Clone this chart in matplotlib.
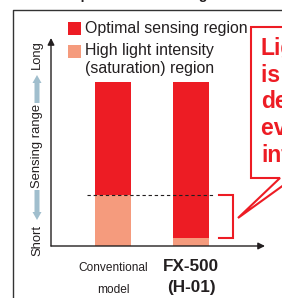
import numpy as np
import matplotlib.pyplot as plt
from matplotlib import font_manager
from matplotlib.patches import Rectangle, FancyArrow
from matplotlib.transforms import blended_transform_factory
plt.rcParams['font.family'] = 'Liberation Sans'

# data ---
categories = [['Conventional', 'model'], ['FX-500', '(H-01)']]
saturation = [31, 5]      # high light intensity (saturation) region
optimal = [69, 95]        # optimal sensing region
legend_labels = [['Optimal sensing region'], ['High light intensity', '(saturation) region']]
callout_lines = ['Light', 'is stably', 'detected', 'even at high', 'intensity']
side_labels = ['Long', 'Sensing range', 'Short']
title = 'Comparison of sensing'
#---

red = '#ED1C24'
salmon = '#F59B7D'
blue = '#A0BECD'
ink = '#231F20'
names = {f.name for f in font_manager.fontManager.ttflist}
narrow = 'Liberation Sans Narrow' if 'Liberation Sans Narrow' in names else 'Liberation Sans'
tick_size = 9.5 if narrow == 'Liberation Sans Narrow' else 8.6

W, H = 282, 298
fig = plt.figure(figsize=(W/100, H/100), dpi=100)

# background layer in pixel units (frame, labels, callout)
bg = fig.add_axes([0, 0, 1, 1])
bg.set_xlim(0, W)
bg.set_ylim(H, 0)
bg.axis('off')

bg.plot([13, 13, W+5], [H+5, 10, 10], color='#333333', lw=1, clip_on=False)
bg.text(49, -1, title, fontsize=10.3, fontweight='bold', color=ink, va='baseline', clip_on=False)

# legend
for i, (c, lab) in enumerate(zip([red, salmon], legend_labels)):
    top = [22, 45][i]
    bg.add_patch(Rectangle((68, top), 13, 13, color=c, lw=0))
    for j, line in enumerate(lab):
        bg.text(85, [33, 55][i] + 18*j, line, fontsize=11.4, color=ink, va='baseline')

# sensing range arrows / labels
bg.text(37, 55, side_labels[0], rotation=90, fontsize=9.4, color=ink, ha='center', va='center')
bg.text(37, 146, side_labels[1], rotation=90, fontsize=9.4, color=ink, ha='center', va='center')
bg.text(37, 240, side_labels[2], rotation=90, fontsize=9.4, color=ink, ha='center', va='center')
bg.add_patch(FancyArrow(37, 103, 0, -28, width=5, head_width=9, head_length=8,
                        length_includes_head=True, color=blue, lw=0))
bg.add_patch(FancyArrow(37, 190, 0, 30, width=5, head_width=9, head_length=8,
                        length_includes_head=True, color=blue, lw=0))

# callout
bg.plot([W+8, 251, 251, 280, 238, W+8], [27, 27, 178, 178, 218, 180.5],
        color=red, lw=1.5, solid_joinstyle='miter', clip_on=False)
for k, line in enumerate(callout_lines):
    bg.text(261, 55 + 26.7*k, line, fontsize=16.5, fontweight='bold', color=red, va='baseline')

# chart ---
ax = fig.add_axes([51/W, (H-246)/H, (265-51)/W, (246-38)/H])
ax.patch.set_alpha(0)
x = np.arange(len(categories))
ax.bar(x, saturation, 0.46, color=salmon, lw=0)
ax.bar(x, optimal, 0.46, bottom=saturation, color=red, lw=0)
ax.set_xlim(-0.795, 1.949)
ax.set_ylim(0, 126.8)
for s in ax.spines.values():
    s.set_visible(False)
ax.set_xticks([])
ax.set_yticks([])
ax.annotate('', xy=(1, 0), xytext=(0, 0), xycoords='axes fraction',
            arrowprops=dict(arrowstyle='-|>', color=ink, lw=1, shrinkA=0, shrinkB=0, mutation_scale=10))
ax.annotate('', xy=(0, 1), xytext=(0, 0), xycoords='axes fraction',
            arrowprops=dict(arrowstyle='-|>', color=ink, lw=1, shrinkA=0, shrinkB=0, mutation_scale=10))

ax.hlines(saturation[0], -0.333, 1.28, colors=ink, linestyles=(0, (3, 2.5)), lw=0.8)
ax.plot([1.36, 1.54, 1.54, 1.36], [saturation[0], saturation[0], saturation[1], saturation[1]],
        color=red, lw=1.5, solid_joinstyle='miter', clip_on=False)

tr = blended_transform_factory(ax.transData, bg.transData)
for i, lines in enumerate(categories):
    for j, line in enumerate(lines):
        if i == 0:
            ax.text(x[i], 271 + 22*j, line, transform=tr, ha='center', va='baseline',
                    family=narrow, fontsize=tick_size, color=ink)
        else:
            ax.text(x[i], 271 + 21*j, line, transform=tr, ha='center', va='baseline',
                    fontsize=12.3, fontweight='bold', color=ink)

plt.savefig('out.png', dpi=100)
